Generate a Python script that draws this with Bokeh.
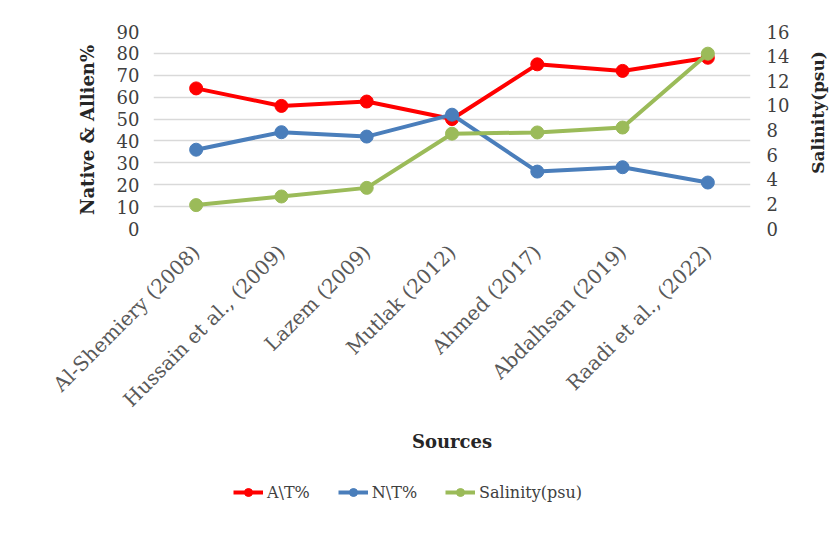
from bokeh.plotting import figure
from bokeh.models import (Range1d, LinearAxis, FactorRange, Legend, LegendItem,
                          FixedTicker)
from bokeh.layouts import row, column
from bokeh.core.properties import value
from bokeh.embed import file_html
from bokeh.resources import INLINE
import math

sources = ["Al-Shemiery (2008)", "Hussain et al., (2009)", "Lazem (2009)",
           "Mutlak (2012)", "Ahmed (2017)", "Abdalhsan (2019)", "Raadi et al., (2022)"]
a_t = [64, 56, 58, 50, 75, 72, 78]
n_t = [36, 44, 42, 52, 26, 28, 21]
salinity = [1.9, 2.6, 3.3, 7.7, 7.8, 8.2, 14.2]
left_ticks = [0, 10, 20, 30, 40, 50, 60, 70, 80, 90]
right_ticks = [0, 2, 4, 6, 8, 10, 12, 14, 16]
series_names = ["A\\T%", "N\\T%", "Salinity(psu)"]

RED = "#FF0000"
BLUE = "#4A7EBB"
GREEN = "#9BBB59"
FONT = "DejaVu Serif"
TOP_H = 462

# ---------------- main chart ----------------
p = figure(width=800, height=TOP_H, x_range=FactorRange(*sources),
           y_range=Range1d(0, 90), output_backend="svg", toolbar_location=None,
           min_border_left=153, min_border_right=50, min_border_top=31,
           min_border_bottom=TOP_H - 31 - 197)
p.extra_y_ranges = {"sal": Range1d(0, 16)}
p.outline_line_color = None
p.background_fill_color = "white"
p.border_fill_color = "white"

p.xgrid.grid_line_color = None
p.ygrid.grid_line_color = "#d9d9d9"
p.ygrid.grid_line_width = 1.5
p.yaxis.ticker = FixedTicker(ticks=left_ticks)

ax = p.yaxis[0]
ax.axis_line_color = None
ax.major_tick_line_color = None
ax.minor_tick_line_color = None
ax.major_label_text_font = FONT
ax.major_label_text_font_size = "18px"
ax.major_label_text_color = "#404040"
ax.major_label_standoff = 8
ax.axis_label = "Native & Allien%"
ax.axis_label_text_font = FONT
ax.axis_label_text_font_style = "bold"
ax.axis_label_text_font_size = "18px"
ax.axis_label_text_color = "#262626"
ax.axis_label_standoff = 16

right = LinearAxis(y_range_name="sal", ticker=FixedTicker(ticks=right_ticks))
right.axis_line_color = None
right.major_tick_line_color = None
right.minor_tick_line_color = None
right.major_label_text_font = FONT
right.major_label_text_font_size = "18px"
right.major_label_text_color = "#404040"
right.major_label_standoff = 10
p.add_layout(right, "right")

xa = p.xaxis[0]
xa.axis_line_color = None
xa.major_tick_line_color = None
xa.minor_tick_line_color = None
xa.major_label_orientation = math.pi / 4
xa.major_label_text_font = FONT
xa.major_label_text_font_size = "20px"
xa.major_label_text_color = "#595959"
xa.major_label_standoff = 14
xa.axis_label = "Sources"
xa.axis_label_text_font = FONT
xa.axis_label_text_font_style = "bold"
xa.axis_label_text_font_size = "18px"
xa.axis_label_text_color = "#262626"
xa.axis_label_standoff = 8

p.line(sources, a_t, line_color=RED, line_width=4)
p.scatter(sources, a_t, size=13, fill_color=RED, line_color=RED)
p.line(sources, n_t, line_color=BLUE, line_width=4)
p.scatter(sources, n_t, size=13, fill_color=BLUE, line_color=BLUE)
p.line(sources, salinity, line_color=GREEN, line_width=4, y_range_name="sal")
p.scatter(sources, salinity, size=13, fill_color=GREEN, line_color=GREEN,
          y_range_name="sal")

# ---------------- right-hand axis title (reads bottom-to-top) ----------------
p2 = figure(width=36, height=TOP_H, x_range=Range1d(0, 36), y_range=Range1d(0, TOP_H),
            output_backend="svg", toolbar_location=None,
            x_axis_location=None, y_axis_location=None, min_border=0)
p2.outline_line_color = None
p2.grid.visible = False
p2.background_fill_color = "white"
p2.border_fill_color = "white"
p2.text(x=[17], y=[TOP_H - 190], text=["Salinity(psu)"], angle=math.pi / 2,
        text_align="center", text_baseline="middle", text_font=value(FONT),
        text_font_style="bold", text_font_size="17px", text_color="#262626")

# ---------------- legend strip ----------------
p3 = figure(width=836, height=533 - TOP_H, x_range=Range1d(0, 1), y_range=Range1d(0, 1),
            output_backend="svg", toolbar_location=None,
            x_axis_location=None, y_axis_location=None, min_border=0)
p3.outline_line_color = None
p3.grid.visible = False
p3.background_fill_color = "white"
p3.border_fill_color = "white"
items = []
for name, col in zip(series_names, [RED, BLUE, GREEN]):
    # legend-only renderers, kept outside the visible range of this strip
    lr = p3.line([5, 6], [5, 6], line_color=col, line_width=4)
    sr = p3.scatter([5], [5], size=13, fill_color=col, line_color=col)
    items.append(LegendItem(label=name, renderers=[lr, sr]))
legend = Legend(items=items, orientation="horizontal", location=(233, 31))
legend.border_line_color = None
legend.background_fill_alpha = 0
legend.label_text_font = FONT
legend.label_text_font_size = "16px"
legend.label_text_color = "#404040"
legend.glyph_width = 30
legend.label_standoff = 4
legend.spacing = 28
legend.margin = 0
legend.padding = 0
p3.add_layout(legend, "center")

layout = column(row(p, p2, spacing=0), p3, spacing=0)
open("out.html", "w").write(file_html(layout, INLINE))
